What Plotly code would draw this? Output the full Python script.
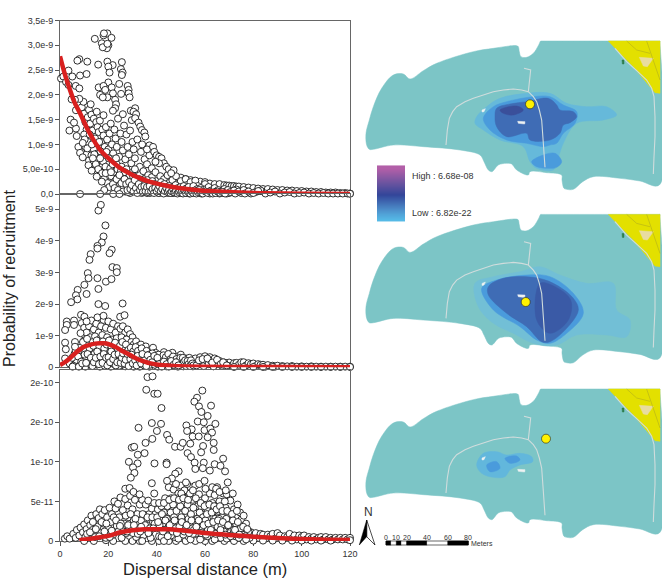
import plotly.graph_objects as go

W, H = 662, 578
# ---------- panel 1 (x in m, y in 1e-9)
P1_PEAK = [(14.4,3.13),(18,3.2),(19.6,3.24),(18.2,3.24),(21.3,3.15),(17.3,3.04),(20,3.0),(19.4,2.94),(17.7,2.96),(19.6,3.03),
(8,2.72),(7.2,2.69),(11.3,2.67),(15.8,2.61),(19.6,2.67),(21.8,2.6),(25.6,2.66),(25.2,2.52),(25.9,2.45),(25.6,2.4),(20,2.57),(20.5,2.45),
(8.3,2.39),(11,2.42),(3.5,2.49),(5.1,2.37),(0.4,2.33),(1.4,2.37),(2.5,2.26),(3.5,2.2),(6.5,2.18),(8,2.13),(20,2.25),(24.5,2.22),(28,2.18),
(16,2.15),(18,2.18),(21.4,2.15),(18.7,2.1),(28.4,2.1),(28.4,2.03),(25.3,2.02),(16.6,2.0),(21.9,2.03),(19.6,1.95),(17.7,1.95),(28.8,1.95),
(22.8,1.9),(23.2,1.81),(22.8,1.73),(21.9,1.68),(29.3,1.68),(31.1,1.73),(30.4,1.66),(31.5,1.61),(26,1.61),(29.7,1.49),(31.1,1.53),(32.5,1.44),
(33.2,1.36),(33.9,1.29),(34.9,1.24),(35.3,1.16),(18,1.59),(15.2,1.66),(12.7,1.81),(9.7,1.86),(8,1.92),(6.2,1.9),(4.8,1.91),(6.6,1.69),(4.4,1.5),
(3.9,1.28),(6.9,1.17),(6.6,1.32),(5.8,1.44),(7.6,.95),(8.3,.83),(9.4,.74),(9.4,1.03),(11.8,.58),(13.1,.47),(15.2,.35),(17.3,.25),(18.3,.08),
(8.3,0),(16.6,0),(22,0),(24.6,0),(37,.98),(36,.9),(38.5,.95),(39,.85),(40,.78),(41,.75),(42,.72),(43,.62),(41,.62),(39.5,.65),(44,.55),(45,.5),(47,.48),(46,.42)]
P1_CLOUD = [(9,1.75),(10,1.62),(10.5,1.45),(11,1.3),(11.5,1.55),(12,1.7),(12.5,1.42),(13,1.6),(13.5,1.28),(14,1.52),(14.5,1.12),(15,1.45),(15.5,1.35),
(16,1.25),(16.5,1.48),(17,1.05),(17.5,1.3),(18,1.18),(18.5,.95),(19,1.35),(19.5,1.1),(20,.9),(20.5,1.22),(21,1.42),(21.5,1.0),(22,.82),(22.5,1.3),
(23,1.12),(23.5,.95),(24,1.52),(24.5,.75),(25,1.22),(25.5,1.05),(26,.88),(26.5,1.38),(27,.7),(27.5,1.2),(28,.95),(28.5,.8),(29,1.28),(29.5,.62),
(30,1.05),(30.5,.9),(31,.72),(32,1.1),(33,.55),(33.5,.85),(34,1.0),(35,.7),(36,.6),(37,.78),(38,.52),(10,1.2),(10.5,.95),(11,.8),(11.5,1.05),(12,.68),
(12.5,.92),(13,.78),(13.5,.6),(14,.9),(14.5,.72),(15,.55),(15.5,.82),(16,.64),(16.5,.47),(17,.75),(17.5,.55),(18,.4),(18.5,.7),(19,.5),(19.5,.32),
(20,.62),(20.5,.42),(21,.25),(21.5,.7),(22,.5),(22.5,.34),(23,.18),(23.5,.6),(24,.42),(24.5,.26),(25,.1),(25.5,.55),(26,.36),(26.5,.2),(27,.05),
(27.5,.5),(28,.3),(28.5,.14),(29,.02),(29.5,.42),(30,.26),(30.5,.1),(31,.5),(31.5,.32),(32,.18),(32.5,.04),(33,.38),(33.5,.24),(34,.1),(34.5,.46),
(35,.3),(35.5,.14),(36,.02),(36.5,.38),(37,.22),(37.5,.08),(38,.34),(38.5,.18),(39,.04),(39.5,.44),(40,.26),(40.5,.12),(41,.02),(41.5,.36),(42,.2),
(42.5,.08),(43,.3),(43.5,.14),(44,.03),(44.5,.38),(45,.22),(45.5,.1),(46,.02),(46.5,.28),(47,.14),(47.5,.05),(48,.36),(48.5,.2),(49,.09),(49.5,.02),
(50,.26),(50.5,.13),(51,.05),(52,.3),(52.5,.18),(53,.08),(53.5,.01),(54,.24),(55,.12),(55.5,.04),(56,.27),(57,.16),(58,.07),(58.5,.01),(60,.2)]
P1_DENSE = [(10.2,1.1),(11.3,.92),(12.3,1.2),(13.2,1.0),(14.2,.8),(15.2,.66),(16.2,1.05),(16.8,.86),(17.8,.66),(18.8,.55),(19.2,.85),(20.2,.72),(20.8,.52),(21.2,.36),(21.8,.6),(22.2,.44),
(22.8,.26),(23.2,.72),(23.8,.5),(24.2,.34),(24.8,.18),(25.2,.46),(25.8,.28),(26.2,.12),(26.8,.44),(27.2,.3),(27.8,.16),(28.2,.04),(28.8,.38),(29.2,.22),(29.8,.08),(30.2,.36),(30.8,.18),(31.2,.06),
(31.8,.26),(32.2,.1),(32.8,.3),(33.2,.16),(33.8,.02),(34.2,.26),(34.8,.06),(35.2,.2),(35.8,.08),(36.2,.28),(36.8,.12),(37.2,.02),(37.8,.16),(38.2,.26),(38.8,.1),(39.2,.2),(39.8,.06),(40.2,.16),(40.8,.02),
(41.2,.1),(41.8,.24),(42.2,.14),(42.8,.03),(43.2,.2),(43.8,.08),(44.2,.14),(44.8,.02),(45.2,.16),(45.8,.06),(46.2,.12),(46.8,.02),(47.2,.09),(47.8,.18),(48.2,.03),(48.8,.12),(49.2,.06),(49.8,.14),
(50.2,.02),(50.8,.09),(51.2,.16),(51.8,.04),(52.2,.11),(52.8,.02),(53.2,.14),(53.8,.06),(54.2,.02),(54.8,.09),(55.2,.16),(56.2,.03),(56.8,.1),(57.2,.05),(57.8,.02),(58.2,.12),(59,.08),(59.5,.03),(60.5,.1),
(61,.05),(61.5,.14),(62,.01),(62.5,.07),(63.5,.03),(64,.12),(64.5,.05),(65.5,.08),(66,.01),(66.5,.04),(67.5,.02),(68,.1),(68.5,.05),(69.5,.08),(70,.02),(70.5,.04),(72,.07),(72.5,.01),(74,.05),(76,.08),(76.5,.01),(78,.05),(80,.02),(82,.06)]
P1_EXTRA = [(13.6,.72),(14.8,.6),(15.8,.5),(16.6,.72),(17.4,.42),(18.2,.3),(18.9,.42),(19.7,.22),(20.4,.14),(21.1,.44),(21.9,.2),(22.6,.12),(23.4,.3),(24,.08),(24.6,.38),(25.4,.22),(26.1,.05),(26.7,.3),(27.4,.2),
(27.9,.08),(28.6,.24),(29.1,.1),(29.7,.18),(30.4,.05),(30.9,.28),(31.4,.12),(32,.02),(32.6,.2),(33.1,.08),(33.7,.14),(34.3,.04),(34.9,.16),(35.4,.05),(36,.14),(36.6,.04),(37.1,.16),(37.7,.05),(38.3,.1),(38.9,.02),
(39.4,.12),(40,.05),(40.6,.1),(41.1,.16),(41.7,.05),(42.3,.1),(42.9,.01),(43.4,.06),(44,.12),(44.6,.04),(45.1,.08),(45.7,.02),(46.3,.05),(46.9,.09),(47.4,.03),(48,.06),(48.6,.01),(49.1,.04),(49.7,.07),(50.3,.04),(50.9,.01),
(51.5,.07),(52.1,.02),(52.7,.06),(53.3,.03),(53.9,.01),(54.5,.05),(55.1,.02),(55.7,.07),(56.4,.01),(57,.04),(57.6,.08),(58.3,.03),(59.1,.01),(60.2,.05),(61.2,.02),(62.3,.04),(63.2,.01),(64.3,.02),(65.2,.05),(66.3,.02),(67.2,.04),(68.3,.01)]
P1_TAIL = [(50,.33),(52,.3),(54,.28),(56,.26),(58,.25),(60,.24),(62,.21),(64,.2),(66,.2),(68,.18),(69,.17),(70,.17),(71,.16),(72,.16),(73,.15),(74,.15),
(76,.14),(78,.13),(80,.12),(82,.11),(84,.1),(86,.1),(88,.09),(90,.08),(92,.08),(94,.07),(96,.07),(98,.06),(100,.06),(102,.05),(104,.05),(106,.04),(108,.04),
(110,.03),(112,.03),(114,.03),(116,.02),(118,.02),(120,.01),(61,.08),(63,.1),(65,.03),(67,.07),(69,.01),(71,.05),(73,.09),(75,.02),(77,.06),(79,.01),(81,.04),
(83,.07),(85,.01),(87,.03),(89,.05),(91,.01),(93,.03),(95,.04),(97,.01),(99,.02),(101,.03),(103,.01),(105,.02),(107,.01),(109,.02),(111,.01),(113,.01),(115,.01),(117,.01),(119,.01),(120,.005)]
P1_LINE_X = [0, 2, 4, 6, 8.3, 12, 16.6, 21, 25, 29, 33, 37, 41, 45, 50, 58, 65, 72, 85, 100, 120]
P1_LINE_Y = [2.78, 2.42, 2.12, 1.85, 1.63, 1.25, .89, .68, .52, .41, .32, .25, .2, .155, .115, .07, .05, .035, .015, .006, .002]

# ---------- panel 2 (y in 1e-9)
P2_PEAK = [(15.9,4.96),(16.9,5.14),(18.8,4.49),(18,4.14),(17.3,3.95),(15.5,3.84),(15.5,3.76),(21.4,3.72),(20.5,3.61),(12.7,3.58),(12.2,3.4),(21.7,3.17),
(23.5,3.14),(23.5,3.01),(11.5,2.98),(11.8,2.82),(15.5,2.82),(19,2.71),(21.3,2.79),(10.1,2.61),(15.9,2.48),(7.3,2.45),(6.6,2.28),(7.2,2.15),(4.6,2.06),
(11,2.32),(15.9,2.0),(18.7,1.94),(25.9,2.02),(24.9,1.6),(26.7,1.65),(8.7,1.66),(10.1,1.6),(2.8,1.45),(5.8,1.48),(2.8,1.34),(5.8,1.34),(2.1,1.18),(11,1.45),
(15.5,1.58),(18,1.63),(2.1,.78),(6.2,.8),(2.4,.57),(6.2,.65),(2.1,.28)]
P2_CLOUD = [(9,1.4),(10,1.25),(11,1.1),(12,1.3),(13,1.48),(14,1.2),(15,1.38),(16,1.1),(17,1.3),(18,1.5),(19,1.25),(20,1.45),(21,1.2),(22,1.38),(23,1.1),(24,1.3),
(25,1.22),(26,1.3),(27,1.1),(28,1.2),(29,1.05),(30,.95),(8.5,1.08),(10,.85),(11.5,.7),(12.5,.95),(13.5,.8),(14.5,.98),(15.5,.72),(16.5,.9),(17.5,1.02),(18.5,.78),
(19.5,.95),(20.5,.72),(21.5,.88),(22.5,.68),(23.5,.92),(24.5,.75),(25.5,.95),(26.5,.78),(27.5,.88),(28.5,.7),(29.5,.8),(30.5,.72),(31.5,.82),(32.5,.68),(33.5,.72),
(34.5,.58),(35.5,.66),(36.5,.5),(37.5,.55),(38.5,.62),(6,.42),(7,.2),(8,.05),(9,.35),(10,.55),(10.5,.02),(11,.28),(12,.48),(12.7,.08),(13.5,.36),(14.5,.58),(15,.18),(16,.42),
(16.5,.02),(17,.62),(18,.28),(18.5,.05),(19,.5),(20,.18),(20.5,.6),(21,.02),(21.5,.35),(22.5,.1),(23,.55),(23.5,.28),(24.5,.05),(25,.45),(26,.2),(26.5,.6),(27,.03),(27.5,.35),
(28.5,.12),(29,.5),(30,.25),(30.5,.02),(31,.45),(32,.12),(32.5,.3),(33,.02),(33.5,.48),(34.5,.2),(35,.05),(35.5,.36),(36.5,.15),(37,.02),(38,.32),(38.5,.1),(39.5,.46),(40,.22),
(40.5,.02),(41.5,.36),(42,.12),(43,.48),(43.5,.25),(44,.03),(45,.38),(45.5,.14),(46.5,.46),(47,.26),(47.5,.04),(48.5,.34),(49,.13),(50,.4),(50.5,.22),(51,.03),(52,.28),(52.5,.1),
(53.5,.3),(54,.16),(55,.03),(55.5,.22),(56,.28),(57,.12),(58,.32),(58.5,.18),(59.5,.04),(60,.35),(60.5,.22),(61.5,.1),(62,.32),(62.5,.2),(63.5,.03),(64,.28),(65,.14),(66,.2),(67,.05),(68,.15)]
P2_DENSE = [(4,.12),(5,.3),(5.5,.05),(6.5,.52),(7.5,.34),(8.3,.62),(8.8,.18),(9.5,.8),(10.2,.4),(11.2,.9),(11.8,.15),(12.3,.6),(13.2,.22),(13.8,.68),(14.2,.42),(15.2,.85),(15.6,.3),(16.3,.66),(16.8,.2),
(17.3,.45),(17.8,.82),(18.3,.6),(18.8,.16),(19.3,.72),(19.8,.35),(20.3,.85),(20.8,.42),(21.3,.65),(21.8,.12),(22.3,.48),(22.8,.78),(23.3,.4),(23.8,.6),(24.3,.18),(24.8,.68),(25.3,.3),(25.8,.8),(26.3,.1),
(26.8,.46),(27.3,.72),(27.8,.22),(28.3,.55),(28.8,.36),(29.3,.62),(29.8,.15),(30.3,.5),(30.8,.32),(31.3,.64),(31.8,.2),(32.3,.52),(32.8,.1),(33.2,.38),(33.8,.6),(34.2,.3),(34.8,.42),(35.2,.12),(35.8,.52),
(36.2,.28),(36.8,.4),(37.2,.08),(37.8,.2),(38.2,.44),(38.8,.26),(39.2,.08),(39.8,.34),(40.2,.12),(40.8,.4),(41.2,.2),(41.8,.06),(42.2,.28),(42.8,.38),(43.2,.1),(43.8,.32),(44.2,.18),(44.8,.42),(45.2,.06),
(45.8,.26),(46.2,.12),(46.8,.34),(47.2,.18),(47.8,.08),(48.2,.26),(48.8,.02),(49.2,.2),(49.8,.3),(50.2,.1),(50.8,.3),(51.2,.16),(51.8,.22),(52.2,.04),(52.8,.2),(53.2,.1),(53.8,.04),(54.2,.22),(54.8,.12),(55.2,.06),
(56.5,.06),(57.5,.22),(59,.26),(61,.28),(63,.15),(65,.24),(66.5,.1),(67.5,.16),(69,.06)]
P2_EXTRA = [(5.2,.02),(7.8,.02),(9.2,.12),(10.8,.14),(11.4,.42),(12.8,.3),(13.4,.04),(14,.16),(14.8,.3),(15.4,.5),(16.1,.1),(16.7,.34),(17.6,.14),(18.1,.42),(19.1,.3),(19.6,.06),(20.1,.32),(20.7,.16),(21.2,.5),(22,.26),
(22.6,.4),(23.1,.06),(23.7,.16),(24.2,.42),(25.1,.14),(25.6,.3),(26.1,.44),(26.7,.12),(27.2,.24),(27.9,.42),(28.4,.04),(29.1,.26),(29.6,.4),(30.1,.12),(31.1,.22),(31.7,.06),(32.1,.36),(32.9,.22),(33.6,.12),(34.1,.42),
(35.1,.22),(35.7,.04),(36.3,.38),(37.4,.24),(38.1,.16),(39,.36),(40.3,.3),(41,.1),(42.1,.02),(43,.18),(44.1,.1),(45,.02),(46,.2),(47,.08),(48,.16),(49,.06)]
P2_TAIL = [(69,.12),(70,.15),(71,.05),(72,.13),(73,.14),(74,.08),(75,.16),(76,.16),(77,.06),(78,.13),(79,.1),(80,.12),(81,.04),(82,.1),(83,.08),(84,.08),(85,.02),(86,.07),(88,.05),(89,.02),
(90,.05),(92,.04),(94,.03),(96,.04),(98,.02),(100,.03),(102,.02),(104,.03),(106,.02),(108,.02),(110,.02),(112,.02),(114,.02),(116,.02),(118,.02),(120,.02),(72,.01),(76,.01),(80,.01),(84,.01),
(88,.01),(92,.01),(96,.01),(100,.01),(104,.01),(108,.01),(112,.01),(116,.01),(120,.01)]
P2_LINE_X = [0, 2, 4, 6, 8, 10, 12.4, 14.5, 16.6, 18.5, 20.7, 23, 25, 27, 29, 31, 33, 35, 37, 41.5, 50, 58, 70, 90, 120]
P2_LINE_Y = [.07, .16, .28, .42, .55, .65, .71, .75, .76, .76, .72, .64, .55, .47, .39, .3, .23, .18, .13, .07, .03, .015, .01, .007, .005]

# ---------- panel 3 (y in 1e-11)
P3_PEAK = [(36.2,20.7),(38.3,20.8),(35.7,19.1),(39,18.6),(40.4,18.6),(42,16.8),(58.9,19),(56.7,18.1),(55.6,17.6),(57.5,17),(58.5,16.3),(62.5,17.1),(61.1,15.8),(38,14.9),(41.8,14.8),(32.5,14.3),
(40.1,13.9),(57,15.1),(59.5,15),(64.3,14.8),(52.3,14.6),(54.5,14.1),(52.6,13.9),(59.8,14),(62.2,14.2),(62.9,13.7),(44.3,13.4),(45.2,12.8),(38.2,12.9),(35.4,12.4),(29.7,11.8),(30.7,11.9),(32.2,10.9),
(35,11.1),(47.6,11.9),(49.9,11.9),(50.8,12.4),(53.9,12.3),(54.9,13.2),(57.4,13.2),(61.1,13.1),(63.6,12.4),(63.6,11.5),(59.2,12),(58.4,11.2),(52.8,11.1),(54.2,10.6),(55.7,9.9),(56,9.1),(28.5,10),(32.1,9.8),
(30.2,9.3),(30.8,8.6),(29.3,8),(39.1,9.8),(44.1,9.9),(44.1,9.7),(59.5,9.9),(67.5,10.4),(64,9.7),(59.1,9.2),(62,8.9),(66.4,9.5),(68.3,8.8),(49.1,8.8),(47.7,8.5),(46.3,7.9),(44.3,7.6),(59.8,7.6),(52.1,7.4),
(69.4,7.4),(38,7.3),(27,6.6),(28.8,6.7),(30.4,6.2),(39,6),(32.9,5.9)]
P3_CLOUD = [(2,.3),(3,.6),(4,.3),(5.5,.9),(6.5,.4),(7,1.4),(8,.7),(8.5,1.7),(9.5,1.1),(10,2.1),(10.5,.5),(11,1.5),(11.5,2.6),(12,.9),(12.5,2),(13,3.2),(13.5,1.4),(14,2.5),(14.5,.5),(15,3.4),(15.5,1.8),
(16,2.9),(16.5,4),(17,1),(17.5,3.4),(18,2.2),(18.5,3.9),(19,.4),(19.5,3),(20,1.6),(20.5,4.2),(21,2.4),(21.5,3.4),(22,.8),(22.5,5),(23,4.1),(23.5,1.9),(24,4.7),(24.5,3),(25,5.5),(25.5,.4),(26,3.9),(26.5,2.2),
(27,5.3),(27.5,1),(28,4.5),(28.5,3),(29,5.7),(29.5,1.7),(30,4),(30.5,2.6),(31,5.2),(31.5,.5),(32,3.4),(32.5,1.5),(33,4.6),(33.5,2.6),(34,5.2),(34.5,.7),(35,3.3),(35.5,4.6),(36,2),(36.5,5.1),(37,3.4),(37.5,.4),
(38,4.1),(38.5,2.4),(39,4.8),(39.5,3.4),(40,1.6),(40.5,4),(41,.6),(41.5,3),(42,4.4),(42.5,2.2),(43,3.6),(43.5,5.4),(44,1),(44.5,4.4),(45,6.8),(45.5,2.8),(46,5.4),(46.5,3.8),(47,6.5),(47.5,.5),(48,4.8),(48.5,2.2),
(49,6),(49.5,3.4),(50,7),(50.5,1.3),(51,4.6),(51.5,6.4),(52,3),(52.5,5.4),(53,.6),(53.5,4),(54,6.8),(54.5,2.2),(55,5.2),(55.5,3.6),(56,7),(56.5,1),(57,4.4),(57.5,5.9),(58,2.8),(58.5,4.3),(59,.5),(59.5,3.3),(60,5.4),
(60.5,1.8),(61,4),(61.5,2.8),(62,6),(62.5,.8),(63,4.8),(63.5,3),(64,5.8),(64.5,1.5),(65,6.8),(65.5,3.8),(66,5),(66.5,.4),(67,3),(67.5,6),(68,2),(68.5,4.2),(69,5.9),(69.5,1),(70,3.4),(70.5,5.1),(71,2.5),(71.5,6),
(72,4),(72.5,.6),(73,3),(73.5,4.6),(74,1.8),(74.5,3.6),(75,2.7),(75.5,.8),(76,3.2),(76.5,1.8),(77,2.2),(78,1.2),(78.5,.4)]
P3_DENSE = [(11.2,.9),(12.4,1.1),(13.6,2.4),(14.8,1.5),(16.2,.6),(17.2,2.4),(18.4,1.2),(19.2,2.2),(20.6,.5),(21.4,1.3),(22.2,3),(23.2,2.6),(24.2,1.2),(25.2,2.2),(26.2,1.2),(27.2,3.2),(28.2,2),(29.2,3.4),(30.2,1),(31.2,2.8),
(32.2,.9),(33.2,1.2),(34.2,3.4),(35.2,2),(36.2,3),(37.2,1.6),(38.2,3),(39.2,2.2),(40.2,3),(41.2,2),(42.2,3.4),(43.2,1.4),(44.2,2.8),(45.2,1.6),(45.8,3.6),(46.2,2.2),(46.8,4.6),(47.2,3),(47.8,1.6),(48.2,3.8),(48.8,5.4),
(49.2,2.4),(49.8,4.4),(50.2,3),(50.8,5.6),(51.2,2),(51.8,3.8),(52.2,1.2),(52.8,4.6),(53.2,2.8),(53.8,6),(54.2,3.4),(54.8,1.6),(55.2,4.2),(55.8,2.4),(56.2,5.4),(56.8,2.8),(57.2,1.6),(57.8,3.6),(58.2,4.8),(58.8,1.8),(59.2,3),(59.8,4.4),
(60.2,2.6),(60.8,3.4),(61.2,1.4),(61.8,4.6),(62.2,2.2),(62.8,3.6),(63.2,1.8),(63.8,4.4),(64.2,2.8),(64.8,4),(65.2,1.8),(65.8,2.8),(66.2,4.4),(66.8,2),(67.2,3.8),(67.8,1.2),(68.2,5),(68.8,2.8),(69.2,3.8),(70.2,2),(70.8,1.2),
(71.2,3.4),(71.8,1.4),(72.8,2.2),(73.2,3.8),(73.8,1),(74.8,1.6),(75.8,1.8),(76.8,.6),(77.5,1.5),(34,0),(37,1.1),(42,.5),(43,0),(46,.7),(49,.3),(51,.8),(54,.2),(55,.9),(58,.2),(61,.6),(64,.2),(66,1),(69,.3),(71,.7),(74,.4),(77,.2)]
P3_EXTRA = [(24.8,1.9),(27.8,1.2),(30.6,2),(33.6,1.8),(36.6,1),(38.6,1.6),(40.6,2.4),(42.6,1.2),(43.6,2.6),(44.6,.6),(45.4,2),(46.6,1.2),(47.4,2.6),(48.4,1),(49.4,1.8),(50.4,2.4),(51.4,1.2),(52.4,2),(53.4,1),(54.4,2.6),(55.4,1.4),
(56.4,1.8),(57.4,2.6),(58.4,1),(59.4,2),(60.4,.8),(61.4,2.2),(62.4,1.4),(63.4,2.4),(64.4,.9),(65.4,2.6),(66.4,1.4),(67.4,2.4),(68.4,.8),(69.6,2),(70.6,.6),(71.6,2.6),(72.4,1.4),(73.6,2.4),(74.2,.8),(48,7.2),(50.2,6),(52.6,7.2),(55,6.4),
(57.6,7.2),(60.2,6.6),(63,6.8),(64.6,6.6),(66,6.2),(68.6,6.4),(41,4.8),(43,4.8),(45.2,5.2),(47.2,5.4),(49.2,5.2),(51,5.4),(53,5.2)]
P3_TAIL = [(79,1.1),(80,.7),(81,1),(82,.4),(83,.9),(84,.8),(85,.3),(86,.8),(87,.6),(88,.9),(89,.3),(90,1),(91,.7),(92,.2),(93,.6),(94,.5),(95,.9),(96,.3),(97,.7),(98,.2),(99,.7),(100,.5),(101,.7),(102,.2),(103,.5),
(104,.3),(105,.5),(106,.2),(107,.4),(108,.5),(109,.2),(110,.5),(111,.2),(112,.4),(113,.2),(114,.4),(115,.2),(116,.4),(117,.2),(118,.4),(119,.2),(120,.4),(120,.1),
(10,0),(14,0),(19,.1),(22,0),(27,0),(30,0),(33,0),(38,0),(41,0),(45,0),(48,0),(52,0),(56,0),(60,0),(63,0),(68,0),(72,0),(76,0),(80,.05),(84,.05),(88,.05),(92,.05),(96,.05),(100,.05),(104,.05),(108,.05),(112,.05)]
P3_LINE_X = [8, 12, 15, 18, 20, 25, 30, 35, 40, 45, 50, 55, 60, 65, 70, 80, 90, 100, 110, 120]
P3_LINE_Y = [.1, .25, .4, .55, .65, 1.1, 1.35, 1.47, 1.5, 1.47, 1.35, 1.2, 1.0, .88, .76, .55, .38, .25, .17, .12]

P1_TICKS = [0, .5, 1, 1.5, 2, 2.5, 3, 3.5]
P1_LABELS = ["0,0", "5,0e-10", "1,0e-9", "1,5e-9", "2,0e-9", "2,5e-9", "3,0e-9", "3,5e-9"]
P2_TICKS = [0, 1, 2, 3, 4, 5]
P2_LABELS = ["0", "1e-9", "2e-9", "3e-9", "4e-9", "5e-9"]
P3_TICKS = [0, 5, 10, 15, 20]
P3_LABELS = ["0", "5e-11", "1e-10", "2e-10", "2e-10"]
X_TICKS = [0, 20, 40, 60, 80, 100, 120]

# ---------- map features, in map units (3 units = 1 px); y measured for the top map
COAST_X = [542,545,740,745,895,900,900,898,840,780,700,668,640,620,612,606,605,560,510,505,470,455,440,415,400,395,385,372,360,300,190,100,40,28,20,18,28,40,65,100,130,150,190,230,340,400,470,475,478,483,500,520,536]
COAST_Y = [33,33,33,33,33,33,38,465,453,445,440,455,478,478,475,450,435,428,425,435,420,402,400,405,422,425,420,395,375,360,350,345,358,358,345,310,270,230,175,135,132,147,122,100,65,55,47,50,65,80,82,70,45]
YELLOW_X = [745,900,900,885,870,820,780]
YELLOW_Y = [33,33,190,188,170,110,70]
PATCH_X = [838,880,862,850]
PATCH_Y = [82,85,110,108]
GREEN_X = [786,792,792,787]
GREEN_Y = [90,90,102,102]
ROAD_X = [258,262,268,278,290,315,340,370,400,430,460,485,505,520,530,538,545,550,555]
ROAD_Y = [345,300,265,245,230,215,205,194,185,180,177,180,185,200,215,240,270,340,412]
BRANCH_X = [505,512,492]
BRANCH_Y = [185,120,115]
ROAD2_X = [765,800,830,860,875,882,885,885,882,880]
ROAD2_Y = [55,95,122,150,175,200,260,320,380,432]
YELLOW_LINE1_X = [860,880,900]
YELLOW_LINE1_Y = [33,90,150]
YELLOW_LINE2_X = [800,830,870]
YELLOW_LINE2_Y = [33,60,70]
ISLET1_X = [366,376,372,366]
ISLET1_Y = [240,236,245,246]
ISLET2_X = [473,495,494,475]
ISLET2_Y = [274,275,282,280]

BLOB1 = [
 ("#66b9da",[350,380,420,500,570,620,680,740,770,730,650,610,590,580,530,510,490,420,370,345],[260,230,205,190,190,220,230,230,255,270,280,340,400,420,415,395,350,330,300,280]),
 ("#4a9bdc",[370,400,440,520,570,610,650,645,610,590,570,550,500,440,390],[265,230,215,200,200,225,245,280,310,340,345,350,340,330,300]),
 ("#4a9bdc",[515,550,585,605,590,570,530],[395,375,370,395,412,415,410]),
 ("#3f6cb5",[405,410,450,500,565,590,600,640,650,630,610,600,570,510,500,440,410],[260,235,222,215,205,225,240,245,260,278,285,310,330,330,310,320,290]),
 ("#3a4f9a",[420,470,490,460,430],[240,228,240,255,250]),
]
BLOB2 = [
 ("#72bfd6",[345,400,480,540,600,680,760,770,810,800,740,650,590,520,460,400,355],[190,170,155,140,165,190,190,270,300,350,345,345,375,370,340,310,260]),
 ("#4a9bdc",[365,410,500,570,640,670,620,570,530,480,400],[205,180,165,170,220,280,340,370,360,320,270]),
 ("#3f6cb5",[385,430,520,580,640,655,620,570,545,500,440,385],[200,175,172,190,235,270,325,365,365,320,280,225]),
 ("#3a5aa6",[540,585,632,625,570,530],[190,200,240,300,340,300]),
]
BLOB3 = [
 ("#62b7dc",[380,400,440,470,510,545,548,510,480,465,430,395],[225,190,185,195,190,200,215,225,240,260,262,250]),
 ("#4a9bdc",[465,500,510,480],[205,198,210,220]),
 ("#4a9bdc",[410,440,450,420],[225,215,235,245]),
]
# each blob list above was read in its own crop: (x, y) origin of that crop in px
BLOB_ORIGIN = [(360, 30), (360, 220), (350, 390)]
MAP_DY = [0, 173.4, 348]
STATION_X = [530, 525.7, 546]
STATION_Y = [104.3, 302, 438.7]

COLORBAR_COLORS = [[0, "#55b9e6"], [.18, "#4d8fcb"], [.48, "#33469a"], [.7, "#67539f"], [1, "#b25fa8"]]
COLORBAR_Z = [0, .1, .2, .3, .4, .5, .6, .7, .8, .9, 1]
SCALE_STOPS = [0, 5, 10, 15, 20, 40, 60, 80]
SCALE_TICKS = [0, 10, 20, 40, 60, 80]

ax = dict(showgrid=False, zeroline=False, showline=True, linecolor="#666", linewidth=1, mirror=True, color="#333",
          tickfont=dict(size=9, family="Liberation Sans", color="#333"), ticks="outside", ticklen=4, tickcolor="#555", layer="below traces")
def px_x(p): return p / W
def px_y(p): return 1 - p / H

fig = go.Figure()
panels = [
 ("", "", [P1_TAIL, P1_CLOUD, P1_DENSE, P1_EXTRA, P1_PEAK], P1_LINE_X, P1_LINE_Y, 1e-9),
 ("2", "2", [P2_TAIL, P2_CLOUD, P2_DENSE, P2_EXTRA, P2_PEAK], P2_LINE_X, P2_LINE_Y, 1e-9),
 ("3", "3", [P3_TAIL, P3_CLOUD, P3_DENSE, P3_EXTRA, P3_PEAK], P3_LINE_X, P3_LINE_Y, 1e-11),
]
for xa, ya, groups, lx, ly, unit in panels:
    pts = [p for g in groups for p in g]
    fig.add_trace(go.Scatter(x=[p[0] for p in pts], y=[p[1] * unit for p in pts], mode="markers", xaxis="x" + xa, yaxis="y" + ya,
                             cliponaxis=False, marker=dict(size=7, color="white", line=dict(color="#1a1a1a", width=0.9))))
    fig.add_trace(go.Scatter(x=lx, y=[v * unit for v in ly], mode="lines", xaxis="x" + xa, yaxis="y" + ya, cliponaxis=False,
                             line=dict(color="#d8201f", width=4.5, shape="spline")))

def mp(xs, ys, ox=360, oy=30, dy=0):
    return [ox + v / 3 for v in xs], [oy + dy + v / 3 for v in ys]
def poly(xs, ys, color, smooth=False):
    fig.add_trace(go.Scatter(x=xs + xs[:1], y=ys + ys[:1], xaxis="x4", yaxis="y4", mode="lines", fill="toself", fillcolor=color,
                             line=dict(color=color, width=0.5, shape="spline" if smooth else "linear")))
def line(xs, ys, color="#d0dcdc", width=1.1):
    fig.add_trace(go.Scatter(x=xs, y=ys, xaxis="x4", yaxis="y4", mode="lines", line=dict(color=color, width=width)))

for i, dy in enumerate(MAP_DY):
    poly(*mp(COAST_X, COAST_Y, dy=dy), "#7cc5c6", smooth=True)
    poly(*mp(YELLOW_X, YELLOW_Y, dy=dy), "#e3e000")
    poly(*mp(PATCH_X, PATCH_Y, dy=dy), "#e8dca0")
    poly(*mp(GREEN_X, GREEN_Y, dy=dy), "#2f7f4f")
    line(*mp(YELLOW_LINE1_X, YELLOW_LINE1_Y, dy=dy), "#a9a520", 0.5)
    line(*mp(YELLOW_LINE2_X, YELLOW_LINE2_Y, dy=dy), "#a9a520", 0.5)
    ox, oy = BLOB_ORIGIN[i]
    for color, bx, by in (BLOB1, BLOB2, BLOB3)[i]:
        poly(*mp(bx, by, ox, oy), color, smooth=True)
    line(*mp(ROAD_X, ROAD_Y, dy=dy))
    line(*mp(BRANCH_X, BRANCH_Y, dy=dy))
    line(*mp(ROAD2_X, ROAD2_Y, dy=dy))
    poly(*mp(ISLET1_X, ISLET1_Y, dy=dy), "#eef2f2")
    poly(*mp(ISLET2_X, ISLET2_Y, dy=dy), "#eef2f2")

fig.add_trace(go.Scatter(x=STATION_X, y=STATION_Y, xaxis="x4", yaxis="y4", mode="markers",
                         marker=dict(size=9, color="#fff200", line=dict(color="#222", width=0.6))))
# colour legend
fig.add_trace(go.Heatmap(x0=391, dx=28, y=[219 - 5.1 * k for k in range(len(COLORBAR_Z))], z=[[v] for v in COLORBAR_Z], xaxis="x4", yaxis="y4",
                         colorscale=COLORBAR_COLORS, showscale=False, zmin=0, zmax=1, zsmooth="best"))
# north arrow and scale bar
poly([366.7, 359.3, 366.7], [520, 545, 536.7], "#000")
line([366.7, 375, 366.7, 366.7], [520, 545, 536.7, 520], "#000", 0.7)
def sx(m): return 386 + m * (468.3 - 386) / 80
for k in range(len(SCALE_STOPS) - 1):
    a, b = sx(SCALE_STOPS[k]), sx(SCALE_STOPS[k + 1])
    poly([a, b, b, a], [541, 541, 545, 545], "#000" if k % 2 == 0 else "#fff")
line([sx(0), sx(80), sx(80), sx(0), sx(0)], [541, 541, 545, 545, 541], "#000", 0.6)

annotations = [
 dict(text="High : 6.68e-08", x=410, y=176, size=9),
 dict(text="Low : 6.82e-22", x=410, y=213, size=9),
 dict(text="N", x=362, y=512, size=12),
 dict(text="Meters", x=469, y=543, size=7),
]
annotations += [dict(text=str(t), x=sx(t), y=537, size=7, center=True) for t in SCALE_TICKS]
anns = [dict(text=a["text"], x=a["x"], y=a["y"], xref="x4", yref="y4", showarrow=False, xanchor="center" if a.get("center") else "left",
             yanchor="middle", font=dict(size=a["size"], family="Liberation Sans", color="#333")) for a in annotations]
anns.append(dict(text="Probability of recruitment", x=9, y=278, xref="x4", yref="y4", showarrow=False, textangle=-90,
                 font=dict(size=16, family="Liberation Sans", color="#222")))
anns.append(dict(text="Dispersal distance (m)", x=205, y=569, xref="x4", yref="y4", showarrow=False,
                 font=dict(size=16.5, family="Liberation Sans", color="#222")))

dom_x = [px_x(60), px_x(350)]
fig.update_layout(
    width=W, height=H, margin=dict(l=0, r=0, t=0, b=0, autoexpand=False), paper_bgcolor="white", plot_bgcolor="rgba(0,0,0,0)", showlegend=False, annotations=anns,
    xaxis=dict(ax, domain=dom_x, range=[0, 120], anchor="y", showticklabels=False, ticks=""),
    yaxis=dict(ax, domain=[px_y(194), px_y(20.5)], range=[0, 3.5e-9], anchor="x", tickvals=[v * 1e-9 for v in P1_TICKS], ticktext=P1_LABELS),
    xaxis2=dict(ax, domain=dom_x, range=[0, 120], anchor="y2", showticklabels=False, ticks=""),
    yaxis2=dict(ax, domain=[px_y(367.3), px_y(194)], range=[0, 5.484e-9], anchor="x2", tickvals=[v * 1e-9 for v in P2_TICKS], ticktext=P2_LABELS),
    xaxis3=dict(ax, domain=dom_x, range=[0, 120], anchor="y3", tickvals=X_TICKS),
    yaxis3=dict(ax, domain=[px_y(541), px_y(370)], range=[0, 2.16e-10], anchor="x3", tickvals=[v * 1e-11 for v in P3_TICKS], ticktext=P3_LABELS),
    xaxis4=dict(domain=[0, 1], range=[0, W], visible=False, anchor="y4"),
    yaxis4=dict(domain=[0, 1], range=[H, 0], visible=False, anchor="x4"),
)
fig.write_html("out.html", config={"displayModeBar": False}, post_script="document.body.style.margin='0';document.body.style.overflow='hidden';")
